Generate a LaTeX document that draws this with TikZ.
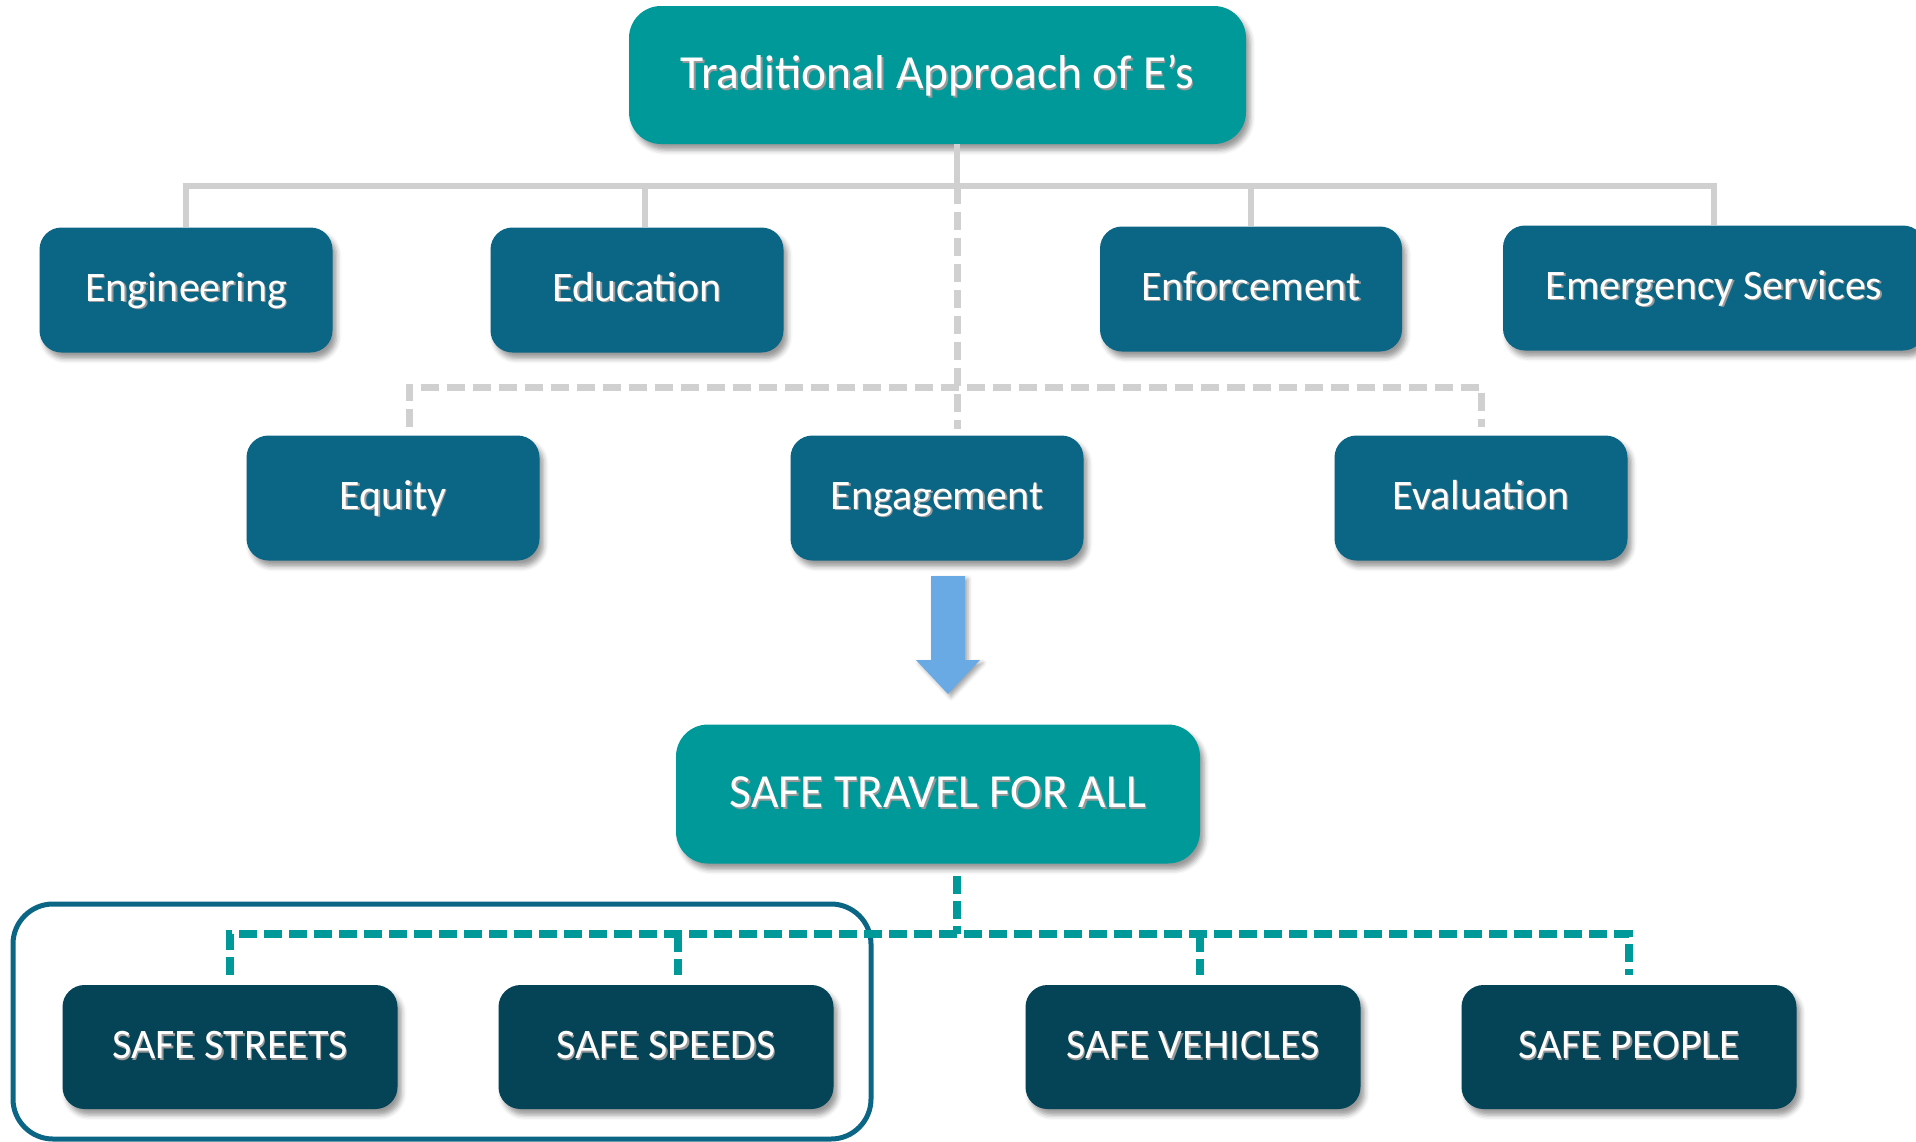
\documentclass[tikz,border=0pt]{standalone}
\usepackage{fontspec}
\setmainfont{Carlito}
\usepackage{tikz}
\usetikzlibrary{positioning}
\usetikzlibrary{shadows}
\usetikzlibrary{shadows.blur}
\definecolor{tealtop}{RGB}{0,153,153}
\definecolor{petrol}{RGB}{11,101,132}
\definecolor{deepteal}{RGB}{5,67,87}
\definecolor{linegray}{RGB}{208,208,208}
\definecolor{arrowblue}{RGB}{106,170,228}
% white label with a small dark shadow
\newcommand{\shtxt}[1]{\makebox[0pt][l]{\hspace{1.5pt}\raisebox{-1.5pt}{\textcolor{black!40}{#1}}}#1}

\begin{document}
\begin{tikzpicture}[x=1pt, y=-1pt,
  box/.style={rounded corners=22pt, text=white, inner sep=0pt,
    blur shadow={shadow xshift=4pt, shadow yshift=-6pt, shadow blur radius=5pt, shadow opacity=40}},
  headbox/.style={box, fill=tealtop, rounded corners=32pt, text height=33pt, text depth=6pt,
    font=\fontsize{47.5}{57}\selectfont},
  ebox/.style={box, fill=petrol, minimum width=293pt, minimum height=125pt, text height=28pt, text depth=6pt,
    font=\fontsize{42}{50}\selectfont},
  safebox/.style={box, fill=deepteal, minimum width=335pt, minimum height=124pt, text height=29pt, text depth=6pt,
    font=\fontsize{42}{50}\selectfont},
  tree/.style={draw=linegray, line width=6pt},
  dashtree/.style={tree, line width=7pt, dash pattern=on 18pt off 8pt},
  safetree/.style={draw=tealtop, line width=7.5pt, dash pattern=on 18pt off 7pt}]
  \useasboundingbox (0,0) rectangle (1916,1141);

  % group frame round the first two
  \draw[petrol, line width=5pt, rounded corners=40pt] (13,904) rectangle (871,1139);

  \node[headbox, minimum width=617pt, minimum height=138pt] (top) at (937.5,75) {\shtxt{Traditional Approach of E’s}};

  \node[ebox] (engi) at (186,290) {\shtxt{Engineering}};
  \node[ebox] (educ) at (637,290) {\shtxt{Education}};
  \node[ebox, minimum width=302pt] (enfo) at (1251,289) {\shtxt{Enforcement}};
  \node[ebox, minimum width=422pt] (emer) at (1714,288) {\shtxt{Emergency Services}};

  \node[ebox] (equi) at (393,498) {\shtxt{Equity}};
  \node[ebox] (enga) at (937,498) {\shtxt{Engagement}};
  \node[ebox] (eval) at (1481,498) {\shtxt{Evaluation}};

  \node[headbox, minimum width=524pt, minimum height=139pt] (safe) at (938,794) {\shtxt{SAFE TRAVEL FOR ALL}};

  \node[safebox] (strt) at (230,1047) {\shtxt{SAFE STREETS}};
  \node[safebox] (sped) at (666,1047) {\shtxt{SAFE SPEEDS}};
  \node[safebox] (vehi) at (1193,1047) {\shtxt{SAFE VEHICLES}};
  \node[safebox] (peop) at (1629,1047) {\shtxt{SAFE PEOPLE}};

  \coordinate (hub) at (957,186);
  \coordinate (mid) at (957,387);
  \coordinate (safehub) at (957,934);

  % solid tree
  \draw[tree] (top.south -| hub) -- (hub);
  \draw[tree] (engi.north) -- (engi.north |- hub) -- (emer.north |- hub) -- (emer.north);
  \draw[tree] ([xshift=8pt]educ.north |- hub) -- ([xshift=8pt]educ.north);
  \draw[tree] (enfo.north |- hub) -- (enfo.north);

  % dashed tree
  \draw[dashtree, shorten >=6pt] (hub) -- (hub |- enga.north);
  \draw[dashtree, shorten <=8pt, shorten >=8pt] ([xshift=16pt]equi.north) -- ([xshift=16pt]equi.north |- mid) -- (eval.north |- mid) -- (eval.north);

  % arrow down
  \fill[arrowblue, blur shadow={shadow xshift=3pt, shadow yshift=-3pt, shadow blur radius=4pt, shadow opacity=35}]
    (931,576) -- (965,576) -- (965,660) -- (980,660) -- (948,694) -- (916,660) -- (931,660) -- cycle;

  % safe tree
  \draw[safetree, shorten <=12pt] (safe.south -| hub) -- (safehub);
  \draw[safetree, shorten <=10pt, shorten >=10pt] (strt.north) -- (strt.north |- safehub) -- (peop.north |- safehub) -- (peop.north);
  \draw[safetree, shorten >=10pt] ([xshift=12pt]sped.north |- safehub) -- ([xshift=12pt]sped.north);
  \draw[safetree, shorten >=10pt] ([xshift=7pt]vehi.north |- safehub) -- ([xshift=7pt]vehi.north);
\end{tikzpicture}
\end{document}
